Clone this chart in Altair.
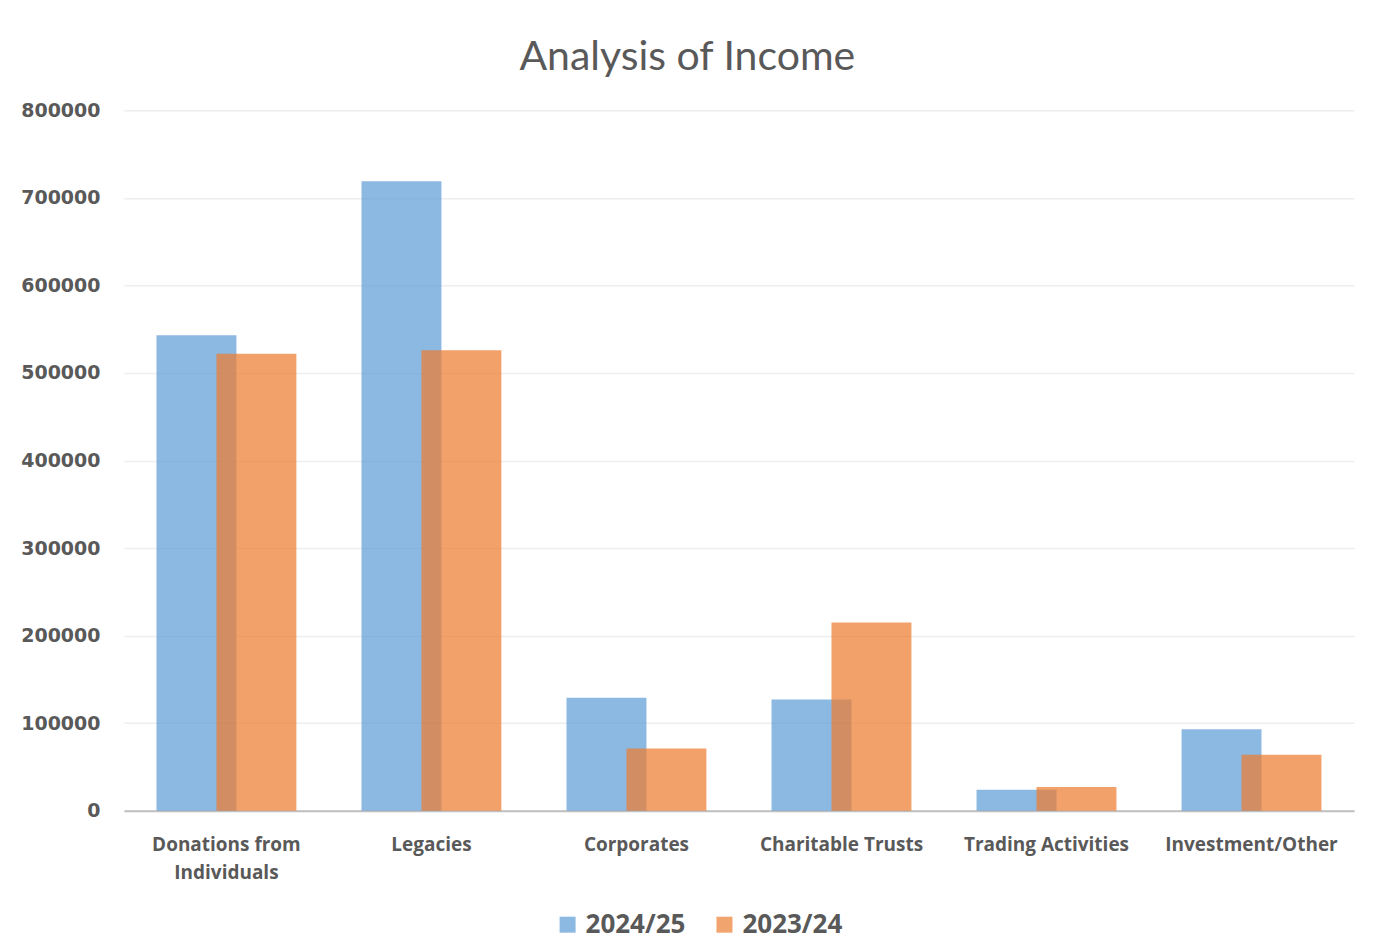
import altair as alt
import pandas as pd

categories = ["Donations from Individuals", "Legacies", "Corporates",
              "Charitable Trusts", "Trading Activities", "Investment/Other"]
series_names = ["2024/25", "2023/24"]
values_2024_25 = [543000, 719000, 129000, 127000, 24000, 93000]
values_2023_24 = [522000, 526000, 71000, 215000, 27000, 64000]
colors = ["#5B9BD5", "#ED7D31"]

rows = []
for c, v in zip(categories, values_2024_25):
    rows.append({"category": c, "series": series_names[0], "value": v})
for c, v in zip(categories, values_2023_24):
    rows.append({"category": c, "series": series_names[1], "value": v})
df = pd.DataFrame(rows)

label_color = "#595959"

x_enc = alt.X(
    "category:N", sort=categories,
    scale=alt.Scale(paddingInner=0, paddingOuter=0),
    axis=alt.Axis(
        title=None, labelAngle=0, ticks=False,
        labelExpr="datum.label == 'Donations from Individuals' ? ['Donations from', 'Individuals'] : datum.label",
        labelFont="Open Sans", labelFontSize=19, labelFontWeight="bold",
        labelColor=label_color, labelPadding=25, labelLineHeight=28,
        domainColor="#BFBFBF", domainWidth=2, grid=False,
    ),
)
y_enc = alt.Y(
    "value:Q",
    scale=alt.Scale(domain=[0, 800000]),
    axis=alt.Axis(
        title=None, values=[0, 100000, 200000, 300000, 400000, 500000, 600000, 700000, 800000],
        format="d", ticks=False, domain=False,
        labelFont="DejaVu Sans", labelFontSize=19, labelFontWeight="bold",
        labelColor=label_color, labelPadding=24,
        gridColor="#EEEEEE", gridWidth=1.5,
    ),
)
color_enc = alt.Color(
    "series:N",
    scale=alt.Scale(domain=series_names, range=colors),
    sort=series_names,
    legend=alt.Legend(
        title=None, orient="none", direction="horizontal",
        legendX=431, legendY=802,
        symbolType="square", symbolSize=256, symbolStrokeWidth=0,
        symbolOpacity=0.7,
        labelFont="Open Sans", labelFontSize=26, labelFontWeight="bold",
        labelColor=label_color, labelOffset=5, columnPadding=26,
        padding=0,
    ),
)

base = alt.Chart(df).encode(x=x_enc, y=y_enc, color=color_enc)

blue = base.transform_filter(alt.datum.series == series_names[0]).mark_bar(
    width=80, xOffset=-30, opacity=0.7)
orange = base.transform_filter(alt.datum.series == series_names[1]).mark_bar(
    width=80, xOffset=30, opacity=0.72)

chart = alt.layer(blue, orange).properties(
    width=1231, height=701,
    background="white",
    title=alt.Title("Analysis of Income", font="Lato", fontSize=41,
                    fontWeight="normal", color=label_color, offset=22,
                    anchor="middle", frame="bounds"),
    padding={"left": 12, "top": 29, "right": 24, "bottom": 10},
).configure_view(stroke="transparent", strokeWidth=0)

chart.save("out.html", embed_options={"renderer": "svg", "actions": False})
